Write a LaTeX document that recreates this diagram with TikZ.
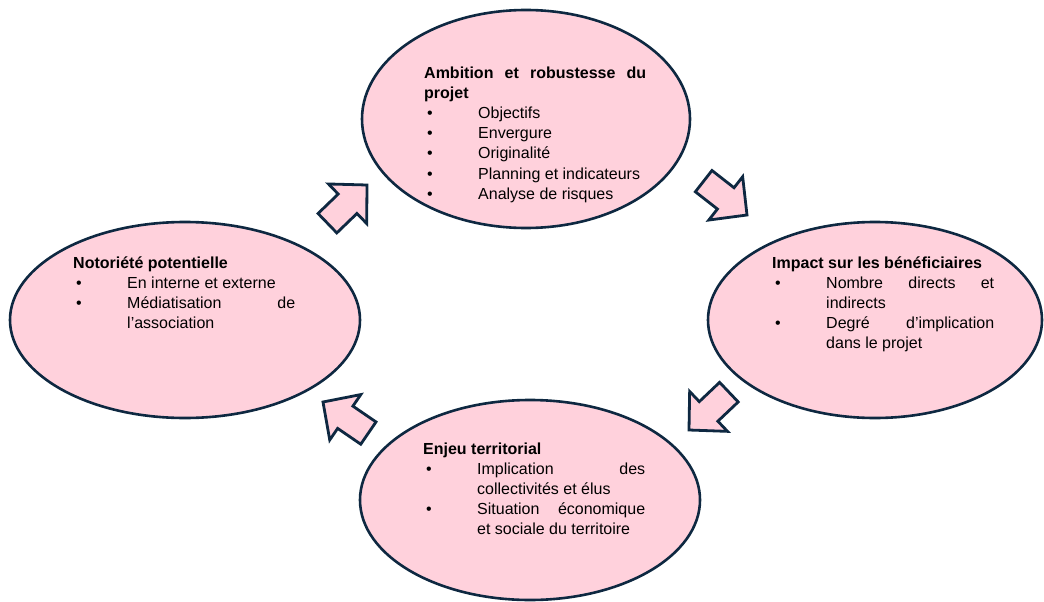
\documentclass[tikz,border=0pt]{standalone}
\usepackage{fontspec}
\setmainfont{Liberation Sans}
\usetikzlibrary{shapes.geometric}
\definecolor{pinkfill}{RGB}{255,209,220}
\definecolor{navyline}{RGB}{14,40,65}
\newcommand{\bitem}[1]{\par\noindent\hangindent=54pt\hangafter=1\makebox[54pt][l]{\hspace{3pt}\textbullet}#1}
\newcommand{\blocktext}[1]{\parbox[t]{222pt}{\fontsize{16}{20.2}\selectfont\sloppy\hyphenpenalty=10000\exhyphenpenalty=10000 #1}}
\tikzset{
  bubble/.style={ellipse, draw=navyline, fill=pinkfill, line width=2.6pt, inner sep=0pt},
  arrowstyle/.style={draw=navyline, fill=pinkfill, line width=2.8pt, line join=miter},
  txt/.style={anchor=base west, inner sep=0pt},
  blockarrow/.pic={\path[arrowstyle] (0,0) -- (-27,27.5) -- (-27,13.5) -- (-55,13.5) -- (-55,-13.5) -- (-27,-13.5) -- (-27,-27.5) -- cycle;}
}
\begin{document}
\begin{tikzpicture}[x=1pt,y=-1pt]
\useasboundingbox (0,0) rectangle (1044,602);
\fill[white] (0,0) rectangle (1044,602);
% ellipses
\node[bubble, minimum width=328pt, minimum height=218pt] (top) at (526,119) {};
\node[bubble, minimum width=334pt, minimum height=196pt] (right) at (875,320) {};
\node[bubble, minimum width=350pt, minimum height=196pt] (left) at (185,320) {};
\node[bubble, minimum width=340pt, minimum height=200pt] (bottom) at (530,500) {};
% arrows
\pic[rotate=44] at (367,185) {blockarrow};
\pic[rotate=-38] at (747,215) {blockarrow};
\pic[rotate=223.5] at (689,430) {blockarrow};
\pic[rotate=145.6] at (323,402) {blockarrow};
% texts
\node[txt] (toptext) at (424,78) {\blocktext{\textbf{Ambition et robustesse du\linebreak projet}\par
\bitem{Objectifs}\bitem{Envergure}\bitem{Originalité}\bitem{Planning et indicateurs}\bitem{Analyse de risques}}};
\node[txt] (righttext) at (772,268) {\blocktext{\textbf{Impact sur les bénéficiaires}\par
\bitem{Nombre directs et\linebreak indirects}\bitem{Degré d’implication\linebreak dans le projet}}};
\node[txt] (lefttext) at (73,268) {\blocktext{\textbf{Notoriété potentielle}\par
\bitem{En interne et externe}\bitem{Médiatisation de\linebreak l’association}}};
\node[txt] (bottomtext) at (423,454) {\blocktext{\textbf{Enjeu territorial}\par
\bitem{Implication des\linebreak collectivités et élus}\bitem{Situation économique\linebreak et sociale du territoire}}};
\end{tikzpicture}
\end{document}
